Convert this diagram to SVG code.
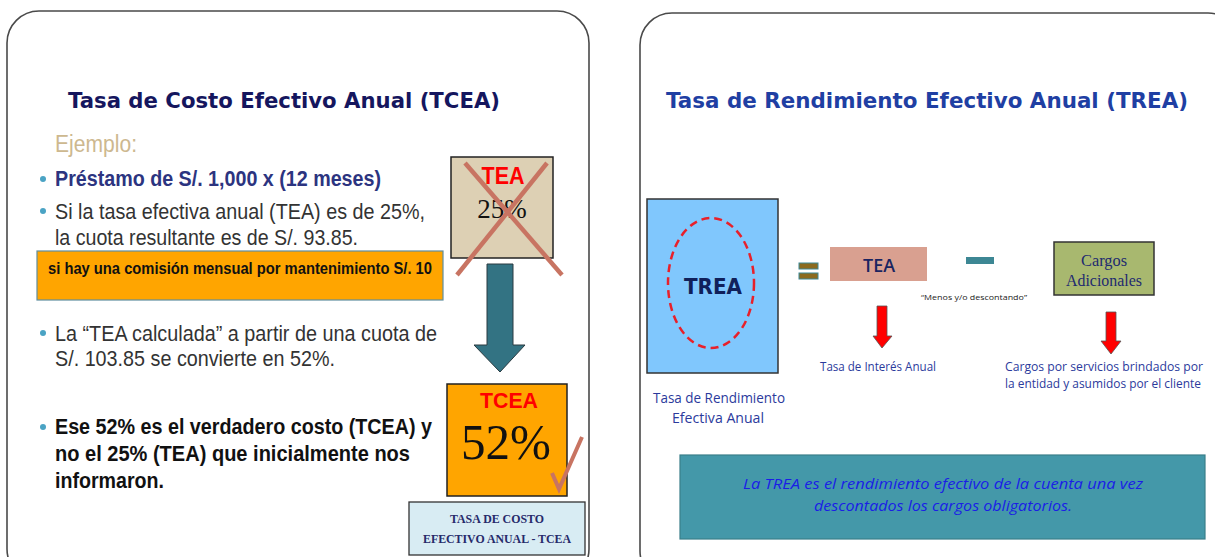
<svg xmlns="http://www.w3.org/2000/svg" width="1215" height="557" viewBox="0 0 1215 557">
<style>
.panel{fill:#fff;stroke:#4a4a4a;stroke-width:1.6}
.sans{font-family:"Liberation Sans",Arial,sans-serif}
.verd{font-family:"DejaVu Sans",Verdana,sans-serif;font-weight:bold}
.serif{font-family:"Liberation Serif","Times New Roman",serif}
.cal{font-family:"Open Sans","Noto Sans",sans-serif}
.bul{fill:#4aa3c4}
.body{fill:#333;font-size:22px}
.cross{stroke:#c87462;stroke-width:4.5;stroke-linecap:butt;fill:none}
</style>
<rect class="panel" x="7" y="11" width="582" height="570" rx="32"/>
<rect class="panel" x="640" y="13" width="600" height="570" rx="32"/>

<g id="left-title">
<text class="verd" x="68" y="108" font-size="21" fill="#15165e" textLength="432" lengthAdjust="spacingAndGlyphs">Tasa de Costo Efectivo Anual (TCEA)</text>
</g>
<g id="left-text">
<text class="sans" x="55" y="152" font-size="23" fill="#cdb88f" textLength="82" lengthAdjust="spacingAndGlyphs">Ejemplo:</text>
<circle class="bul" cx="43" cy="179" r="3"/>
<text class="sans" x="55" y="186" font-size="22" font-weight="bold" fill="#2c3480" textLength="326" lengthAdjust="spacingAndGlyphs">Préstamo de S/. 1,000 x (12 meses)</text>
<circle class="bul" cx="43" cy="211" r="3"/>
<text class="sans body" x="55" y="219" textLength="370" lengthAdjust="spacingAndGlyphs">Si la tasa efectiva anual (TEA) es de 25%,</text>
<text class="sans body" x="55" y="245" textLength="303" lengthAdjust="spacingAndGlyphs">la cuota resultante es de S/. 93.85.</text>
<circle class="bul" cx="43" cy="333" r="3"/>
<text class="sans body" x="55" y="341" textLength="382" lengthAdjust="spacingAndGlyphs">La “TEA calculada” a partir de una cuota de</text>
<text class="sans body" x="55" y="366" textLength="280" lengthAdjust="spacingAndGlyphs">S/. 103.85 se convierte en 52%.</text>
<circle class="bul" cx="43" cy="427" r="3"/>
<text class="sans" x="55" y="434" font-size="22" font-weight="bold" fill="#111" textLength="377" lengthAdjust="spacingAndGlyphs">Ese 52% es el verdadero costo (TCEA) y</text>
<text class="sans" x="55" y="461" font-size="22" font-weight="bold" fill="#111" textLength="355" lengthAdjust="spacingAndGlyphs">no el 25% (TEA) que inicialmente nos</text>
<text class="sans" x="55" y="488" font-size="22" font-weight="bold" fill="#111" textLength="109" lengthAdjust="spacingAndGlyphs">informaron.</text>
</g>
<g id="orange-note">
<rect x="37" y="251" width="406" height="49" fill="#ffa500" stroke="#5f8e9e" stroke-width="1.2"/>
<text class="sans" x="48" y="274" font-size="16" font-weight="bold" fill="#111" textLength="384" lengthAdjust="spacingAndGlyphs">si hay una comisión mensual por mantenimiento S/. 10</text>
</g>
<g id="tea-box">
<rect x="451" y="157" width="102" height="101" fill="#ddd0b4" stroke="#222" stroke-width="1.5"/>
<text class="sans" x="503" y="184" font-size="23" font-weight="bold" fill="#ff0000" text-anchor="middle" textLength="43" lengthAdjust="spacingAndGlyphs">TEA</text>
<text class="serif" x="502" y="218" font-size="27" fill="#111" text-anchor="middle">25%</text>
<line class="cross" x1="465" y1="163" x2="562" y2="275"/>
<line class="cross" x1="547" y1="163" x2="457" y2="275"/>
</g>
<g id="connectors">
<path d="M487,264 L513,264 L513,345 L525,345 L500,372 L474,345 L487,345 Z" fill="#337383" stroke="#2a3a40" stroke-width="1"/>
<path d="M877,306 L887,306 L887,336 L892,336 L882,348 L873,336 L877,336 Z" fill="#ff0000" stroke="#555" stroke-width="0.8"/>
<path d="M1106,312 L1116,312 L1116,341 L1121,341 L1111,354 L1101,341 L1106,341 Z" fill="#ff0000" stroke="#555" stroke-width="0.8"/>
</g>
<g id="tcea-box">
<rect x="447" y="384" width="120" height="112" fill="#ffa500" stroke="#222" stroke-width="1.5"/>
<text class="sans" x="509" y="408" font-size="22" font-weight="bold" fill="#ff0000" text-anchor="middle" textLength="58" lengthAdjust="spacingAndGlyphs">TCEA</text>
<text class="serif" x="506" y="459" font-size="50" fill="#111" text-anchor="middle" textLength="90" lengthAdjust="spacingAndGlyphs">52%</text>
<path d="M552,473 L559,489 L582,437" fill="none" stroke="#c87462" stroke-width="4"/>
</g>
<g id="tcea-label">
<rect x="409" y="502" width="176" height="53" fill="#d8ecf3" stroke="#333" stroke-width="1.3"/>
<text class="serif" x="497" y="523" font-size="12.5" font-weight="bold" fill="#262a6a" text-anchor="middle" textLength="94" lengthAdjust="spacingAndGlyphs">TASA DE COSTO</text>
<text class="serif" x="497" y="543" font-size="12.5" font-weight="bold" fill="#262a6a" text-anchor="middle" textLength="148" lengthAdjust="spacingAndGlyphs">EFECTIVO ANUAL - TCEA</text>
</g>

<g id="right-title">
<text class="verd" x="666" y="108" font-size="21" fill="#1f3fa3" textLength="522" lengthAdjust="spacingAndGlyphs">Tasa de Rendimiento Efectivo Anual (TREA)</text>
</g>
<g id="trea-box">
<rect x="647" y="199" width="131" height="174" fill="#80c7fd" stroke="#333" stroke-width="1.5"/>
<ellipse cx="711" cy="283" rx="43" ry="65" fill="none" stroke="#e8202a" stroke-width="2.5" stroke-dasharray="8 5"/>
<text class="verd" x="713" y="294" font-size="21" fill="#10205a" text-anchor="middle" textLength="58" lengthAdjust="spacingAndGlyphs">TREA</text>
<text class="cal" x="719" y="403" font-size="14" fill="#2b3a9c" text-anchor="middle" textLength="132" lengthAdjust="spacingAndGlyphs">Tasa de Rendimiento</text>
<text class="cal" x="718" y="423" font-size="14" fill="#2b3a9c" text-anchor="middle" textLength="92" lengthAdjust="spacingAndGlyphs">Efectiva Anual</text>
</g>
<g id="equals">
<rect x="799" y="263" width="19" height="6" fill="#8b6a1e" stroke="#3d8794" stroke-width="1"/>
<rect x="799" y="273" width="19" height="6" fill="#8b6a1e" stroke="#3d8794" stroke-width="1"/>
</g>
<g id="tea-node">
<rect x="830" y="247" width="97" height="34" fill="#d9a090"/>
<text class="cal" x="879" y="272" font-size="18" font-weight="600" fill="#1a2460" text-anchor="middle" textLength="32" lengthAdjust="spacingAndGlyphs">TEA</text>
<text class="cal" x="878" y="371" font-size="12" fill="#2b3a9c" text-anchor="middle" textLength="116" lengthAdjust="spacingAndGlyphs">Tasa de Interés Anual</text>
</g>
<g id="minus">
<rect x="966" y="257" width="28" height="7" fill="#3d8794"/>
<text class="cal" x="974" y="300" font-size="8" fill="#222" text-anchor="middle" textLength="106" lengthAdjust="spacingAndGlyphs">“Menos  y/o descontando”</text>
</g>
<g id="cargos-node">
<rect x="1054" y="242" width="100" height="53" fill="#a8b86f" stroke="#333" stroke-width="1.5"/>
<text class="serif" x="1104" y="266" font-size="17" fill="#1e2a70" text-anchor="middle" textLength="46" lengthAdjust="spacingAndGlyphs">Cargos</text>
<text class="serif" x="1104" y="286" font-size="17" fill="#1e2a70" text-anchor="middle" textLength="76" lengthAdjust="spacingAndGlyphs">Adicionales</text>
<text class="cal" x="1104" y="371" font-size="12" fill="#2b3a9c" text-anchor="middle" textLength="198" lengthAdjust="spacingAndGlyphs">Cargos por  servicios  brindados  por</text>
<text class="cal" x="1103" y="388" font-size="12" fill="#2b3a9c" text-anchor="middle" textLength="196" lengthAdjust="spacingAndGlyphs">la entidad y asumidos por el cliente</text>
</g>
<g id="trea-note">
<rect x="680" y="455" width="525" height="84" fill="#4498a9" stroke="#3a7f8a" stroke-width="1.2"/>
<text class="cal" x="943" y="489" font-size="15" font-style="italic" fill="#1a1ee6" text-anchor="middle" textLength="400" lengthAdjust="spacingAndGlyphs">La TREA es el rendimiento efectivo de la cuenta una vez</text>
<text class="cal" x="943" y="511" font-size="15" font-style="italic" fill="#1a1ee6" text-anchor="middle" textLength="258" lengthAdjust="spacingAndGlyphs">descontados los cargos obligatorios.</text>
</g>
</svg>
